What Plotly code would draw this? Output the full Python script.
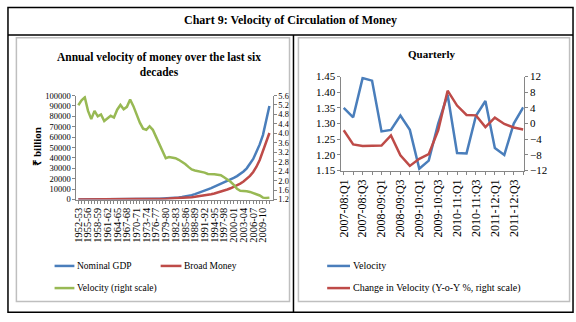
import plotly.graph_objects as go

W, H = 576, 322

# ---------------- data ----------------
years = [f"{y}-{str(y + 1)[-2:]}" for y in range(1952, 2012)]

nominal_gdp = [100, 105, 105, 110, 115, 125, 135, 145, 160, 170,
               185, 200, 220, 250, 280, 300, 340, 380, 410, 440,
               470, 520, 580, 660, 800, 830, 900, 1000, 1150, 1300,
               1500, 1900, 2400, 2900, 3400, 4200, 5200, 6200, 7400, 8600,
               9800, 11000, 12300, 13600, 15000, 16300, 17600, 19000, 20800, 22500,
               24500, 27000, 30000, 34000, 39000, 46000, 53000, 62000, 76000, 90000]

broad_money = [60, 62, 64, 66, 70, 75, 80, 85, 95, 105,
               115, 125, 135, 150, 165, 180, 200, 215, 230, 250,
               280, 320, 370, 420, 480, 560, 650, 750, 870, 1000,
               1150, 1300, 1500, 1700, 1950, 2250, 2600, 3000, 3450, 3950,
               4500, 5100, 5800, 6600, 7500, 8500, 9600, 10800, 12100, 13600,
               15300, 17300, 19700, 22700, 26500, 31500, 38000, 46000, 55000, 64000]

velocity_annual = [5.19, 5.40, 5.52, 4.95, 4.60, 4.95, 4.72, 4.80, 4.52, 4.62,
                   4.74, 4.67, 5.00, 5.20, 5.02, 5.12, 5.43, 5.15, 4.80, 4.45,
                   4.20, 4.15, 4.30, 4.15, 3.85, 3.55, 3.30, 2.95, 3.00, 2.98,
                   2.95, 2.88, 2.80, 2.70, 2.58, 2.47, 2.43, 2.40, 2.38, 2.34,
                   2.28, 2.29, 2.27, 2.25, 2.23, 2.14, 2.05, 1.95, 1.82, 1.65,
                   1.57, 1.57, 1.55, 1.52, 1.47, 1.42, 1.37, 1.28, 1.26, 1.28]

quarters = ["2007-08:Q1", "2007-08:Q2", "2007-08:Q3", "2007-08:Q4",
            "2008-09:Q1", "2008-09:Q2", "2008-09:Q3", "2008-09:Q4",
            "2009-10:Q1", "2009-10:Q2", "2009-10:Q3", "2009-10:Q4",
            "2010-11:Q1", "2010-11:Q2", "2010-11:Q3", "2010-11:Q4",
            "2011-12:Q1", "2011-12:Q2", "2011-12:Q3", "2011-12:Q4"]

velocity_q = [1.35, 1.32, 1.445, 1.437, 1.275, 1.28, 1.326, 1.28, 1.156, 1.182,
              1.30, 1.392, 1.206, 1.205, 1.325, 1.372, 1.222, 1.20, 1.30, 1.352]

velocity_change = [-1.7, -5.3, -5.7, -5.7, -5.6, -3.0, -8.1, -10.8, -9.0, -7.8,
                   -1.7, 8.4, 4.6, 2.2, 2.1, -0.9, 1.5, -0.1, -1.0, -1.5]

gdp_ticks = [0, 10000, 20000, 30000, 40000, 50000, 60000, 70000, 80000, 90000, 100000]
vel_annual_ticks = [1.2, 1.6, 2.0, 2.4, 2.8, 3.2, 3.6, 4.0, 4.4, 4.8, 5.2, 5.6]
vel_q_ticks = [1.15, 1.20, 1.25, 1.30, 1.35, 1.40, 1.45]
change_ticks = [-12, -8, -4, 0, 4, 8, 12]

# ---------------- styling ----------------
BLUE = "#4A7EBB"
RED = "#BE4B48"
GREEN = "#98B954"
AX = "#868686"
SERIF = "Liberation Serif, Times New Roman, serif"


def px(x):
    return x / W


def py(y):
    return 1 - y / H


fig = go.Figure()
fig.add_trace(go.Scatter(x=years, y=nominal_gdp, mode="lines", xaxis="x", yaxis="y",
                         line=dict(color=BLUE, width=2.5), name="Nominal GDP"))
fig.add_trace(go.Scatter(x=years, y=broad_money, mode="lines", xaxis="x", yaxis="y",
                         line=dict(color=RED, width=2.5), name="Broad Money"))
fig.add_trace(go.Scatter(x=years, y=velocity_annual, mode="lines", xaxis="x", yaxis="y2",
                         line=dict(color=GREEN, width=2.5), name="Velocity (right scale)"))
fig.add_trace(go.Scatter(x=quarters, y=velocity_q, mode="lines", xaxis="x2", yaxis="y3",
                         line=dict(color=BLUE, width=2.5), name="Velocity"))
fig.add_trace(go.Scatter(x=quarters, y=velocity_change, mode="lines", xaxis="x2", yaxis="y4",
                         line=dict(color=RED, width=2.5),
                         name="Change in Velocity (Y-o-Y %, right scale)"))

common = dict(showgrid=False, zeroline=False, showline=True, linecolor=AX, linewidth=1,
              ticks="outside", ticklen=3, tickcolor=AX)


def tf(size):
    return dict(family=SERIF, size=size, color="black")


fig.update_layout(
    width=W, height=H, margin=dict(l=0, r=0, t=0, b=0),
    paper_bgcolor="white", plot_bgcolor="white", showlegend=False,
    xaxis=dict(domain=[px(72), px(270)], anchor="y", type="category",
               range=[-0.6, 60.0], tickvals=years,
               ticktext=[y if i % 3 == 0 else "" for i, y in enumerate(years)],
               tickangle=-90, tickfont=tf(10.5), **common),
    yaxis=dict(domain=[py(201), py(93)], anchor="x", range=[0, 100000], tickvals=gdp_ticks,
               tickformat="d", tickfont=tf(8.5), **common),
    yaxis2=dict(overlaying="y", side="right", anchor="x", range=[1.2, 5.6],
                tickvals=vel_annual_ticks, tickformat=".1f", tickfont=tf(8.5), **common),
    xaxis2=dict(domain=[px(339.3), px(523.3)], anchor="y3", type="category",
                range=[-0.25, 19.06], tickvals=quarters,
                ticktext=[q if i % 2 == 0 else "" for i, q in enumerate(quarters)],
                tickangle=-90, tickfont=tf(12), **common),
    yaxis3=dict(domain=[py(171), py(73.3)], anchor="x2", range=[1.15, 1.45],
                tickvals=vel_q_ticks, tickformat=".2f", tickfont=tf(11), **common),
    yaxis4=dict(overlaying="y3", side="right", anchor="x2", range=[-12, 12],
                tickvals=change_ticks, tickformat="d", tickfont=tf(11), **common),
)

shapes = []
# outer frame and separators
shapes.append(dict(type="rect", xref="paper", yref="paper", x0=px(3), x1=px(573), y0=py(318), y1=py(1.5),
                   line=dict(color="black", width=1.5)))
shapes.append(dict(type="line", xref="paper", yref="paper", x0=px(3), x1=px(573), y0=py(30), y1=py(30),
                   line=dict(color="black", width=1.5)))
shapes.append(dict(type="line", xref="paper", yref="paper", x0=px(291), x1=px(291), y0=py(30), y1=py(318),
                   line=dict(color="black", width=1.5)))
# chart-area gray borders
for x0, x1 in [(11.5, 287), (296, 569.5)]:
    shapes.append(dict(type="rect", xref="paper", yref="paper", x0=px(x0), x1=px(x1), y0=py(307), y1=py(33),
                       line=dict(color="#BFBFBF", width=1.5)))

# legend samples
legend_items = [
    (50, 70, 270, BLUE, 71, "Nominal GDP", 9.5),
    (157, 178, 270, RED, 179, "Broad Money", 9.5),
    (50, 70, 293, GREEN, 71, "Velocity (right scale)", 9.5),
    (325, 348, 270, BLUE, 349.5, "Velocity", 10),
    (325, 348, 293, RED, 349.5, "Change in Velocity (Y-o-Y %, right scale)", 10),
]
annotations = []
for x0, x1, yy, col, tx, label, fs in legend_items:
    shapes.append(dict(type="line", xref="paper", yref="paper", x0=px(x0), x1=px(x1), y0=py(yy), y1=py(yy),
                       line=dict(color=col, width=2.5)))
    annotations.append(dict(xref="paper", yref="paper", x=px(tx), y=py(yy), text=label, showarrow=False,
                            xanchor="left", yanchor="middle", font=tf(fs)))

annotations += [
    dict(xref="paper", yref="paper", x=px(288), y=py(15),
         text="<b>Chart 9: Velocity of Circulation of Money</b>", showarrow=False,
         xanchor="center", yanchor="middle", font=tf(12)),
    dict(xref="paper", yref="paper", x=px(155), y=py(61),
         text="<b>Annual velocity of money over the last six<br>decades</b>", showarrow=False,
         xanchor="center", yanchor="middle", font=tf(11.5)),
    dict(xref="paper", yref="paper", x=px(431), y=py(50),
         text="<b>Quarterly</b>", showarrow=False,
         xanchor="center", yanchor="middle", font=tf(11)),
    dict(xref="paper", yref="paper", x=px(31.5), y=py(146),
         text="<b>₹ billion</b>", showarrow=False, textangle=-90,
         xanchor="center", yanchor="middle", font=tf(11)),
]

fig.update_layout(shapes=shapes, annotations=annotations)
fig.write_html("out.html")
